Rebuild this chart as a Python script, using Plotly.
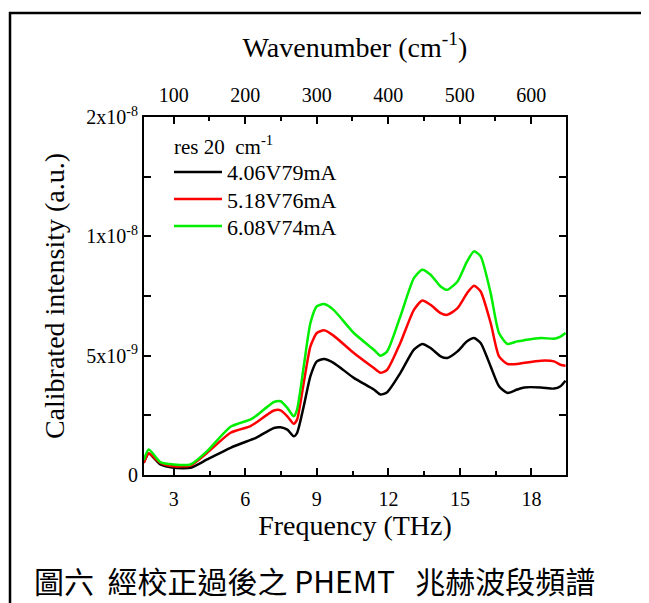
import plotly.graph_objects as go

# Frequency (THz) sample points and calibrated intensity (units of 1e-9)
freq_thz = [1.74, 1.95, 2.44, 3.0, 3.7, 4.4, 5.38, 6.2, 6.43, 7.2, 7.48, 7.76, 8.03, 8.17,
            8.45, 8.73, 9.0, 9.3, 9.7, 10.55, 11.39, 11.67, 11.95, 12.5, 13.07, 13.42,
            13.77, 14.19, 14.47, 14.9, 15.3, 15.59, 15.87, 16.29, 16.64, 17.0, 17.4,
            17.7, 18.4, 18.95, 19.22, 19.43]

black_4v06 = [0.51, 0.90, 0.44, 0.30, 0.30, 0.65, 1.14, 1.46, 1.55, 1.97, 2.00, 1.90, 1.62, 1.76,
              2.88, 4.14, 4.76, 4.86, 4.70, 4.07, 3.58, 3.37, 3.47, 4.27, 5.25, 5.49,
              5.32, 4.97, 4.90, 5.18, 5.60, 5.74, 5.53, 4.55, 3.72, 3.44, 3.58,
              3.67, 3.67, 3.62, 3.72, 3.95]

red_5v18 = [0.51, 0.90, 0.51, 0.37, 0.40, 0.93, 1.77, 2.04, 2.18, 2.70, 2.71, 2.46, 2.15, 2.32,
            3.86, 5.39, 5.95, 6.06, 5.84, 5.11, 4.48, 4.28, 4.41, 5.53, 6.92, 7.31,
            7.13, 6.78, 6.71, 6.99, 7.62, 7.93, 7.69, 6.37, 4.97, 4.65, 4.65,
            4.70, 4.79, 4.76, 4.62, 4.58]

green_6v08 = [0.62, 1.07, 0.54, 0.44, 0.44, 1.00, 2.02, 2.32, 2.46, 3.06, 3.09, 2.81, 2.46, 2.74,
              4.55, 6.37, 7.07, 7.16, 6.92, 5.95, 5.25, 5.00, 5.18, 6.64, 8.25, 8.60,
              8.39, 7.90, 7.76, 8.11, 8.95, 9.37, 9.16, 7.62, 5.95, 5.49, 5.60,
              5.65, 5.74, 5.71, 5.80, 5.95]

series_names = ["4.06V79mA", "5.18V76mA", "6.08V74mA"]
series_colors = ["#000000", "#FF0000", "#00EE00"]
legend_header = "res 20\u00a0\u00a0cm<sup>-1</sup>"

x_tickvals = [3, 6, 9, 12, 15, 18]
y_tickvals = [0, 5e-9, 1e-8, 1.5e-8]
y_ticktext = ["0", "5x10<sup>-9</sup>", "1x10<sup>-8</sup>", "2x10<sup>-8</sup>"]
wn_tickvals = [100, 200, 300, 400, 500, 600]

THZ_TO_CM = 33.356
x_range = [1.75, 19.45]

serif = "Liberation Serif"

# plot-area geometry (screen px) used to convert the decoration positions to paper coords
PL, PT, PW, PH = 144, 117, 422, 358


def px(xs):
    return (xs - PL) / PW


def py(ys):
    return (PT + PH - ys) / PH


fig = go.Figure()
for vals, name, col in zip([black_4v06, red_5v18, green_6v08], series_names, series_colors):
    fig.add_trace(go.Scatter(
        x=freq_thz, y=[v * 1e-9 for v in vals], mode="lines", name=name,
        line=dict(color=col, width=2.5, shape="spline", smoothing=0.6),
        showlegend=False,
    ))

# invisible trace to anchor top wavenumber axis
fig.add_trace(go.Scatter(x=[x_range[0] * THZ_TO_CM, x_range[1] * THZ_TO_CM], y=[0, 0],
                         xaxis="x2", mode="lines", line=dict(width=0),
                         showlegend=False, hoverinfo="skip", opacity=0))

axis_common = dict(showline=True, linecolor="black", linewidth=2, ticks="inside",
                   ticklen=7, tickwidth=1.5, tickcolor="black", showgrid=False, zeroline=False,
                   tickfont=dict(family=serif, size=20, color="black"))

title_font = dict(family=serif, size=28, color="black")

fig.update_layout(
    width=649, height=603,
    font=dict(family=serif, color="black"),
    margin=dict(l=136, r=91, t=109, b=136),
    paper_bgcolor="white", plot_bgcolor="white",
    showlegend=False,
    xaxis=dict(range=x_range, tickvals=x_tickvals, mirror=False, ticklabelstandoff=5,
               minor=dict(ticks="inside", ticklen=4, dtick=1.5, tick0=0, tickcolor="black", tickwidth=1.5),
               title=dict(text="Frequency (THz)", font=title_font, standoff=6),
               **axis_common),
    xaxis2=dict(range=[x_range[0] * THZ_TO_CM, x_range[1] * THZ_TO_CM], overlaying="x", side="top",
                anchor="y", tickvals=wn_tickvals, ticklabelstandoff=5,
                minor=dict(ticks="inside", ticklen=4, dtick=50, tick0=0, tickcolor="black", tickwidth=1.5),
                title=dict(text="Wavenumber (cm<sup>-1</sup>)", font=title_font, standoff=18),
                **axis_common),
    yaxis=dict(range=[0, 1.5e-8], tickvals=y_tickvals, ticktext=y_ticktext, mirror="ticks",
               minor=dict(ticks="inside", ticklen=7, dtick=2.5e-9, tick0=0, tickcolor="black", tickwidth=1.5),
               title=dict(text="Calibrated intensity (a.u.)", font=title_font, standoff=14),
               **axis_common),
)

# legend drawn inside the plot area
fig.add_annotation(text=legend_header, xref="paper", yref="paper", x=px(172), y=py(145),
                   xanchor="left", yanchor="middle", showarrow=False,
                   font=dict(family=serif, size=21, color="black"))
for i, (name, col) in enumerate(zip(series_names, series_colors)):
    yy = 172 + 27 * i
    fig.add_shape(type="line", xref="paper", yref="paper", x0=px(174), x1=px(222),
                  y0=py(yy), y1=py(yy), line=dict(color=col, width=2.5))
    fig.add_annotation(text=name, xref="paper", yref="paper", x=px(225), y=py(yy + 1),
                       xanchor="left", yanchor="middle", showarrow=False,
                       font=dict(family=serif, size=22, color="black"))

# outer frame around the figure
fig.add_shape(type="rect", xref="paper", yref="paper",
              x0=px(10), x1=px(648), y0=py(620), y1=py(13),
              line=dict(color="black", width=2.5), fillcolor="rgba(0,0,0,0)", layer="below")

caption = "圖六\u00a0\u00a0經校正過後之\u00a0PHEMT\u00a0\u00a0\u00a0兆赫波段頻譜"
fig.add_annotation(text=caption, xref="paper", yref="paper",
                   x=px(32), y=py(580), xanchor="left", yanchor="middle",
                   showarrow=False,
                   font=dict(family="Noto Sans CJK TC", size=30, color="black"))

fig.write_html("out.html")
